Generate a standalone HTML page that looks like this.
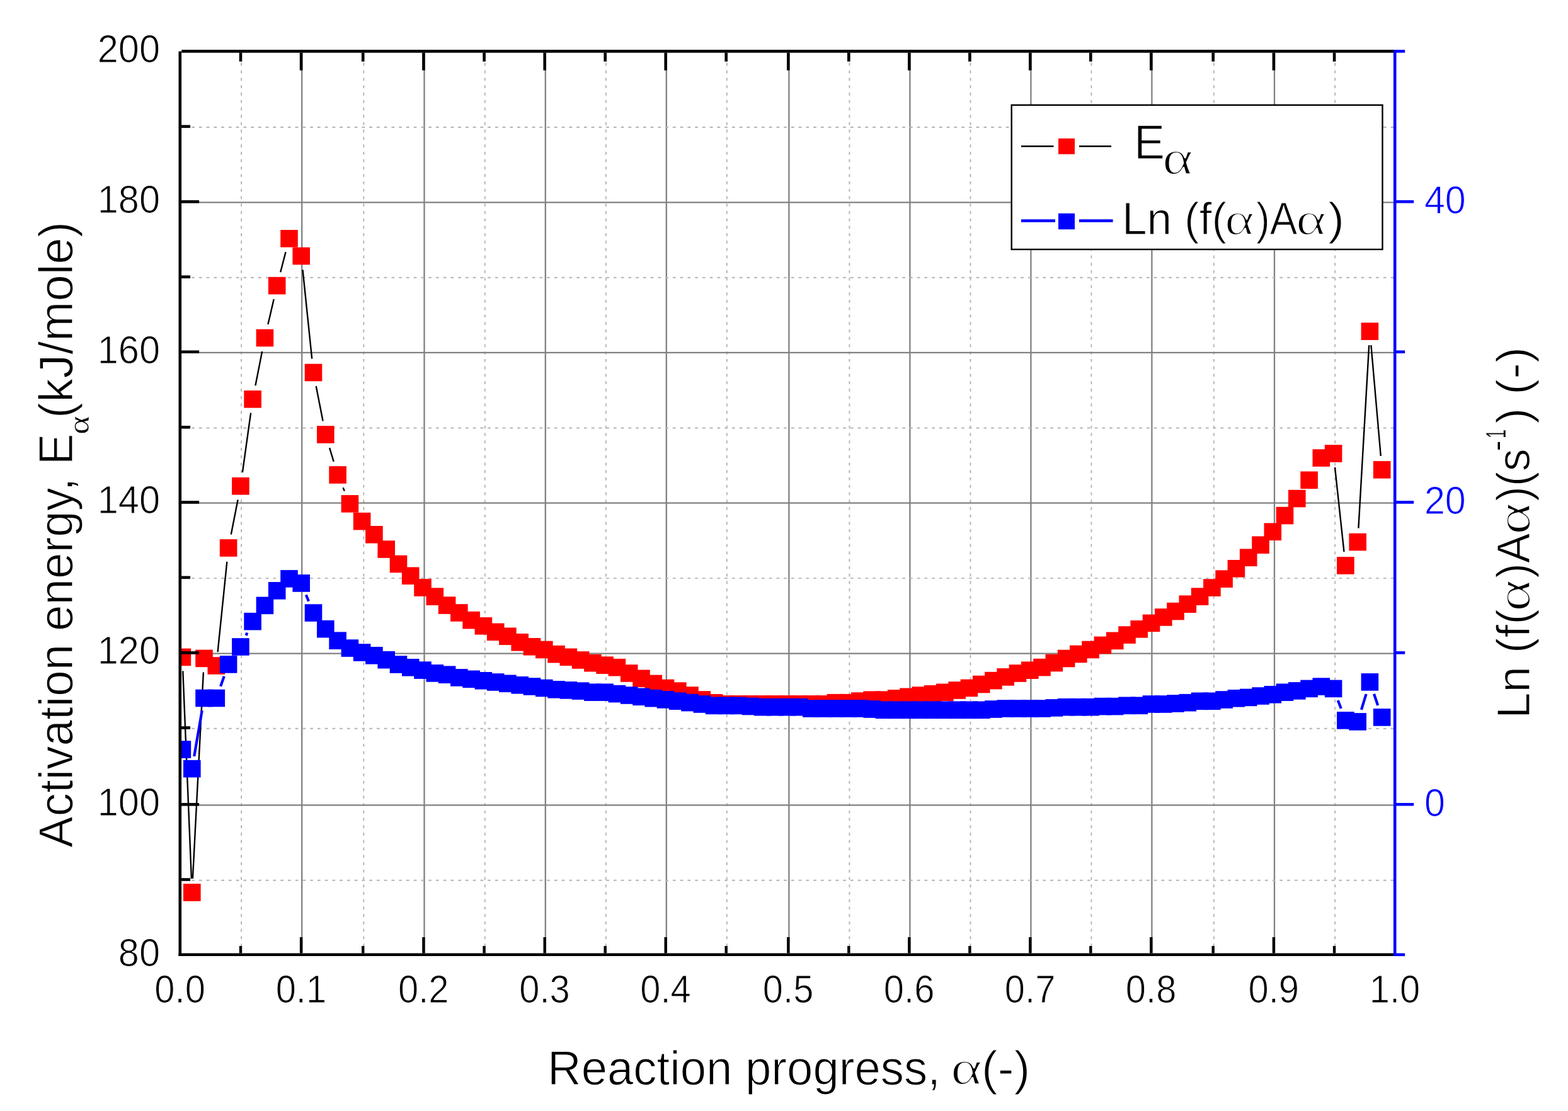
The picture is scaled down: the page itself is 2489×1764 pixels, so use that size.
<!DOCTYPE html><html><head><meta charset="utf-8"><style>html,body{margin:0;padding:0;background:#fff;overflow:hidden}svg{display:block}</style></head><body><svg width="2489" height="1764" viewBox="0 0 2489 1764"><defs><clipPath id="pc"><rect x="288" y="83.6" width="1924" height="1430"/></clipPath></defs><rect width="2489" height="1764" fill="#fff"/><g><line x1="383.1" y1="84" x2="383.1" y2="1513" stroke="#b4b4b4" stroke-width="1.9" stroke-dasharray="4.7 7.05" stroke-dashoffset="7.4"/><line x1="479.2" y1="84" x2="479.2" y2="1513" stroke="#808080" stroke-width="2.3"/><line x1="577.3" y1="84" x2="577.3" y2="1513" stroke="#b4b4b4" stroke-width="1.9" stroke-dasharray="4.7 7.05" stroke-dashoffset="7.4"/><line x1="673.5" y1="84" x2="673.5" y2="1513" stroke="#808080" stroke-width="2.3"/><line x1="769.7" y1="84" x2="769.7" y2="1513" stroke="#b4b4b4" stroke-width="1.9" stroke-dasharray="4.7 7.05" stroke-dashoffset="7.4"/><line x1="865.8" y1="84" x2="865.8" y2="1513" stroke="#808080" stroke-width="2.3"/><line x1="961.8" y1="84" x2="961.8" y2="1513" stroke="#b4b4b4" stroke-width="1.9" stroke-dasharray="4.7 7.05" stroke-dashoffset="7.4"/><line x1="1057.8" y1="84" x2="1057.8" y2="1513" stroke="#808080" stroke-width="2.3"/><line x1="1153.8" y1="84" x2="1153.8" y2="1513" stroke="#b4b4b4" stroke-width="1.9" stroke-dasharray="4.7 7.05" stroke-dashoffset="7.4"/><line x1="1252.4" y1="84" x2="1252.4" y2="1513" stroke="#808080" stroke-width="2.3"/><line x1="1348.4" y1="84" x2="1348.4" y2="1513" stroke="#b4b4b4" stroke-width="1.9" stroke-dasharray="4.7 7.05" stroke-dashoffset="7.4"/><line x1="1444.4" y1="84" x2="1444.4" y2="1513" stroke="#808080" stroke-width="2.3"/><line x1="1540.5" y1="84" x2="1540.5" y2="1513" stroke="#b4b4b4" stroke-width="1.9" stroke-dasharray="4.7 7.05" stroke-dashoffset="7.4"/><line x1="1636.4" y1="84" x2="1636.4" y2="1513" stroke="#808080" stroke-width="2.3"/><line x1="1732.4" y1="84" x2="1732.4" y2="1513" stroke="#b4b4b4" stroke-width="1.9" stroke-dasharray="4.7 7.05" stroke-dashoffset="7.4"/><line x1="1828.4" y1="84" x2="1828.4" y2="1513" stroke="#808080" stroke-width="2.3"/><line x1="1926.8" y1="84" x2="1926.8" y2="1513" stroke="#b4b4b4" stroke-width="1.9" stroke-dasharray="4.7 7.05" stroke-dashoffset="7.4"/><line x1="2023.0" y1="84" x2="2023.0" y2="1513" stroke="#808080" stroke-width="2.3"/><line x1="2119.2" y1="84" x2="2119.2" y2="1513" stroke="#b4b4b4" stroke-width="1.9" stroke-dasharray="4.7 7.05" stroke-dashoffset="7.4"/><line x1="288" y1="202.0" x2="2212" y2="202.0" stroke="#b4b4b4" stroke-width="1.9" stroke-dasharray="4.7 7.05" stroke-dashoffset="7.3"/><line x1="288" y1="321.4" x2="2212" y2="321.4" stroke="#808080" stroke-width="2.3"/><line x1="288" y1="440.8" x2="2212" y2="440.8" stroke="#b4b4b4" stroke-width="1.9" stroke-dasharray="4.7 7.05" stroke-dashoffset="7.3"/><line x1="288" y1="559.9" x2="2212" y2="559.9" stroke="#808080" stroke-width="2.3"/><line x1="288" y1="679.5" x2="2212" y2="679.5" stroke="#b4b4b4" stroke-width="1.9" stroke-dasharray="4.7 7.05" stroke-dashoffset="7.3"/><line x1="288" y1="798.7" x2="2212" y2="798.7" stroke="#808080" stroke-width="2.3"/><line x1="288" y1="918.1" x2="2212" y2="918.1" stroke="#b4b4b4" stroke-width="1.9" stroke-dasharray="4.7 7.05" stroke-dashoffset="7.3"/><line x1="288" y1="1037.6" x2="2212" y2="1037.6" stroke="#808080" stroke-width="2.3"/><line x1="288" y1="1156.7" x2="2212" y2="1156.7" stroke="#b4b4b4" stroke-width="1.9" stroke-dasharray="4.7 7.05" stroke-dashoffset="7.3"/><line x1="288" y1="1278.4" x2="2212" y2="1278.4" stroke="#808080" stroke-width="2.3"/><line x1="288" y1="1397.7" x2="2212" y2="1397.7" stroke="#b4b4b4" stroke-width="1.9" stroke-dasharray="4.7 7.05" stroke-dashoffset="7.3"/></g><g clip-path="url(#pc)"><g stroke="#000" stroke-width="2.4" fill="none"><line x1="290.3" y1="1065.4" x2="303.9" y2="1395.0"/><line x1="305.9" y1="1395.0" x2="322.9" y2="1067.4"/><line x1="345.6" y1="1035.1" x2="360.3" y2="891.9"/><line x1="366.8" y1="848.4" x2="377.6" y2="793.4"/><line x1="384.9" y1="750.0" x2="398.1" y2="655.6"/><line x1="405.4" y1="612.2" x2="416.1" y2="558.1"/><line x1="425.4" y1="515.1" x2="434.7" y2="475.0"/><line x1="445.2" y1="432.3" x2="453.5" y2="400.1"/><line x1="480.5" y1="428.4" x2="495.2" y2="569.6"/><line x1="501.7" y1="613.1" x2="512.6" y2="668.4"/><line x1="523.1" y1="711.1" x2="529.7" y2="732.9"/><line x1="544.6" y1="774.3" x2="546.8" y2="779.6"/><line x1="2119.0" y1="742.0" x2="2133.5" y2="876.1"/><line x1="2156.4" y1="838.6" x2="2173.2" y2="548.1"/><line x1="2176.4" y1="548.0" x2="2191.8" y2="724.0"/></g><g fill="#f00"><rect x="275.6" y="1029.6" width="27.6" height="27.6"/><rect x="291.0" y="1403.2" width="27.6" height="27.6"/><rect x="310.2" y="1031.6" width="27.6" height="27.6"/><rect x="329.5" y="1043.2" width="27.6" height="27.6"/><rect x="348.8" y="856.2" width="27.6" height="27.6"/><rect x="368.1" y="758.0" width="27.6" height="27.6"/><rect x="387.3" y="620.0" width="27.6" height="27.6"/><rect x="406.6" y="522.7" width="27.6" height="27.6"/><rect x="425.9" y="439.8" width="27.6" height="27.6"/><rect x="445.2" y="365.0" width="27.6" height="27.6"/><rect x="464.4" y="392.7" width="27.6" height="27.6"/><rect x="483.7" y="577.7" width="27.6" height="27.6"/><rect x="503.0" y="676.2" width="27.6" height="27.6"/><rect x="522.3" y="740.2" width="27.6" height="27.6"/><rect x="541.6" y="786.1" width="27.6" height="27.6"/><rect x="560.8" y="813.9" width="27.6" height="27.6"/><rect x="580.1" y="835.0" width="27.6" height="27.6"/><rect x="599.4" y="858.3" width="27.6" height="27.6"/><rect x="618.7" y="881.7" width="27.6" height="27.6"/><rect x="637.9" y="900.5" width="27.6" height="27.6"/><rect x="657.2" y="919.2" width="27.6" height="27.6"/><rect x="676.5" y="933.4" width="27.6" height="27.6"/><rect x="695.8" y="947.3" width="27.6" height="27.6"/><rect x="715.0" y="959.2" width="27.6" height="27.6"/><rect x="734.3" y="970.9" width="27.6" height="27.6"/><rect x="753.6" y="980.1" width="27.6" height="27.6"/><rect x="772.9" y="989.6" width="27.6" height="27.6"/><rect x="792.1" y="996.5" width="27.6" height="27.6"/><rect x="811.4" y="1006.0" width="27.6" height="27.6"/><rect x="830.7" y="1013.0" width="27.6" height="27.6"/><rect x="850.0" y="1017.7" width="27.6" height="27.6"/><rect x="869.2" y="1024.9" width="27.6" height="27.6"/><rect x="888.5" y="1029.5" width="27.6" height="27.6"/><rect x="907.8" y="1034.2" width="27.6" height="27.6"/><rect x="927.1" y="1038.9" width="27.6" height="27.6"/><rect x="946.3" y="1042.4" width="27.6" height="27.6"/><rect x="965.6" y="1045.9" width="27.6" height="27.6"/><rect x="984.9" y="1055.2" width="27.6" height="27.6"/><rect x="1004.2" y="1063.5" width="27.6" height="27.6"/><rect x="1023.4" y="1071.6" width="27.6" height="27.6"/><rect x="1042.7" y="1078.7" width="27.6" height="27.6"/><rect x="1062.0" y="1083.3" width="27.6" height="27.6"/><rect x="1081.2" y="1090.2" width="27.6" height="27.6"/><rect x="1100.5" y="1097.2" width="27.6" height="27.6"/><rect x="1119.8" y="1102.0" width="27.6" height="27.6"/><rect x="1139.1" y="1104.1" width="27.6" height="27.6"/><rect x="1158.4" y="1104.1" width="27.6" height="27.6"/><rect x="1177.6" y="1104.1" width="27.6" height="27.6"/><rect x="1196.9" y="1104.1" width="27.6" height="27.6"/><rect x="1216.2" y="1104.1" width="27.6" height="27.6"/><rect x="1235.5" y="1104.1" width="27.6" height="27.6"/><rect x="1254.7" y="1104.1" width="27.6" height="27.6"/><rect x="1274.0" y="1104.1" width="27.6" height="27.6"/><rect x="1293.3" y="1104.1" width="27.6" height="27.6"/><rect x="1312.6" y="1101.9" width="27.6" height="27.6"/><rect x="1331.8" y="1101.9" width="27.6" height="27.6"/><rect x="1351.1" y="1099.3" width="27.6" height="27.6"/><rect x="1370.4" y="1097.4" width="27.6" height="27.6"/><rect x="1389.6" y="1097.4" width="27.6" height="27.6"/><rect x="1408.9" y="1095.1" width="27.6" height="27.6"/><rect x="1428.2" y="1092.5" width="27.6" height="27.6"/><rect x="1447.5" y="1090.2" width="27.6" height="27.6"/><rect x="1466.8" y="1088.0" width="27.6" height="27.6"/><rect x="1486.0" y="1085.5" width="27.6" height="27.6"/><rect x="1505.3" y="1082.2" width="27.6" height="27.6"/><rect x="1524.6" y="1078.6" width="27.6" height="27.6"/><rect x="1543.9" y="1072.7" width="27.6" height="27.6"/><rect x="1563.1" y="1066.8" width="27.6" height="27.6"/><rect x="1582.4" y="1061.1" width="27.6" height="27.6"/><rect x="1601.7" y="1055.2" width="27.6" height="27.6"/><rect x="1621.0" y="1050.4" width="27.6" height="27.6"/><rect x="1640.2" y="1045.8" width="27.6" height="27.6"/><rect x="1659.5" y="1038.7" width="27.6" height="27.6"/><rect x="1678.8" y="1031.7" width="27.6" height="27.6"/><rect x="1698.0" y="1024.7" width="27.6" height="27.6"/><rect x="1717.3" y="1017.7" width="27.6" height="27.6"/><rect x="1736.6" y="1010.6" width="27.6" height="27.6"/><rect x="1755.9" y="1003.6" width="27.6" height="27.6"/><rect x="1775.2" y="994.3" width="27.6" height="27.6"/><rect x="1794.4" y="985.1" width="27.6" height="27.6"/><rect x="1813.7" y="975.6" width="27.6" height="27.6"/><rect x="1833.0" y="966.2" width="27.6" height="27.6"/><rect x="1852.2" y="956.8" width="27.6" height="27.6"/><rect x="1871.5" y="945.4" width="27.6" height="27.6"/><rect x="1890.8" y="933.4" width="27.6" height="27.6"/><rect x="1910.1" y="919.3" width="27.6" height="27.6"/><rect x="1929.3" y="905.4" width="27.6" height="27.6"/><rect x="1948.6" y="889.0" width="27.6" height="27.6"/><rect x="1967.9" y="871.5" width="27.6" height="27.6"/><rect x="1987.2" y="851.5" width="27.6" height="27.6"/><rect x="2006.5" y="830.5" width="27.6" height="27.6"/><rect x="2025.7" y="804.8" width="27.6" height="27.6"/><rect x="2045.0" y="777.8" width="27.6" height="27.6"/><rect x="2064.3" y="748.5" width="27.6" height="27.6"/><rect x="2083.5" y="713.3" width="27.6" height="27.6"/><rect x="2102.8" y="706.3" width="27.6" height="27.6"/><rect x="2122.1" y="884.2" width="27.6" height="27.6"/><rect x="2141.4" y="846.8" width="27.6" height="27.6"/><rect x="2160.6" y="512.3" width="27.6" height="27.6"/><rect x="2179.9" y="732.1" width="27.6" height="27.6"/></g><g stroke="#00f" stroke-width="4.2" fill="none"><line x1="308.2" y1="1200.9" x2="320.7" y2="1128.2"/><line x1="350.1" y1="1089.7" x2="355.8" y2="1073.7"/><line x1="390.5" y1="1009.0" x2="392.5" y2="1004.7"/><line x1="485.8" y1="944.5" x2="490.0" y2="954.6"/><line x1="2123.8" y1="1112.1" x2="2128.8" y2="1125.1"/><line x1="2161.0" y1="1126.8" x2="2168.6" y2="1102.0"/><line x1="2181.0" y1="1101.8" x2="2187.2" y2="1120.0"/></g><g fill="#00f"><rect x="275.6" y="1176.2" width="27.6" height="27.6"/><rect x="291.0" y="1206.8" width="27.6" height="27.6"/><rect x="310.2" y="1094.7" width="27.6" height="27.6"/><rect x="329.5" y="1094.7" width="27.6" height="27.6"/><rect x="348.8" y="1041.1" width="27.6" height="27.6"/><rect x="368.1" y="1013.2" width="27.6" height="27.6"/><rect x="387.3" y="972.9" width="27.6" height="27.6"/><rect x="406.6" y="947.6" width="27.6" height="27.6"/><rect x="425.9" y="924.1" width="27.6" height="27.6"/><rect x="445.2" y="905.1" width="27.6" height="27.6"/><rect x="464.4" y="912.2" width="27.6" height="27.6"/><rect x="483.7" y="959.3" width="27.6" height="27.6"/><rect x="503.0" y="984.9" width="27.6" height="27.6"/><rect x="522.3" y="1003.4" width="27.6" height="27.6"/><rect x="541.6" y="1015.3" width="27.6" height="27.6"/><rect x="560.8" y="1022.2" width="27.6" height="27.6"/><rect x="580.1" y="1027.0" width="27.6" height="27.6"/><rect x="599.4" y="1033.9" width="27.6" height="27.6"/><rect x="618.7" y="1041.2" width="27.6" height="27.6"/><rect x="637.9" y="1046.0" width="27.6" height="27.6"/><rect x="657.2" y="1050.3" width="27.6" height="27.6"/><rect x="676.5" y="1055.1" width="27.6" height="27.6"/><rect x="695.8" y="1057.4" width="27.6" height="27.6"/><rect x="715.0" y="1062.1" width="27.6" height="27.6"/><rect x="734.3" y="1064.5" width="27.6" height="27.6"/><rect x="753.6" y="1067.0" width="27.6" height="27.6"/><rect x="772.9" y="1069.2" width="27.6" height="27.6"/><rect x="792.1" y="1071.5" width="27.6" height="27.6"/><rect x="811.4" y="1074.0" width="27.6" height="27.6"/><rect x="830.7" y="1076.2" width="27.6" height="27.6"/><rect x="850.0" y="1078.7" width="27.6" height="27.6"/><rect x="869.2" y="1081.0" width="27.6" height="27.6"/><rect x="888.5" y="1082.1" width="27.6" height="27.6"/><rect x="907.8" y="1083.3" width="27.6" height="27.6"/><rect x="927.1" y="1085.4" width="27.6" height="27.6"/><rect x="946.3" y="1085.4" width="27.6" height="27.6"/><rect x="965.6" y="1087.8" width="27.6" height="27.6"/><rect x="984.9" y="1090.2" width="27.6" height="27.6"/><rect x="1004.2" y="1092.5" width="27.6" height="27.6"/><rect x="1023.4" y="1094.9" width="27.6" height="27.6"/><rect x="1042.7" y="1097.1" width="27.6" height="27.6"/><rect x="1062.0" y="1099.4" width="27.6" height="27.6"/><rect x="1081.2" y="1101.8" width="27.6" height="27.6"/><rect x="1100.5" y="1104.2" width="27.6" height="27.6"/><rect x="1119.8" y="1106.6" width="27.6" height="27.6"/><rect x="1139.1" y="1106.6" width="27.6" height="27.6"/><rect x="1158.4" y="1106.6" width="27.6" height="27.6"/><rect x="1177.6" y="1107.7" width="27.6" height="27.6"/><rect x="1196.9" y="1108.9" width="27.6" height="27.6"/><rect x="1216.2" y="1108.9" width="27.6" height="27.6"/><rect x="1235.5" y="1108.9" width="27.6" height="27.6"/><rect x="1254.7" y="1108.9" width="27.6" height="27.6"/><rect x="1274.0" y="1111.2" width="27.6" height="27.6"/><rect x="1293.3" y="1111.2" width="27.6" height="27.6"/><rect x="1312.6" y="1111.2" width="27.6" height="27.6"/><rect x="1331.8" y="1111.2" width="27.6" height="27.6"/><rect x="1351.1" y="1111.2" width="27.6" height="27.6"/><rect x="1370.4" y="1112.2" width="27.6" height="27.6"/><rect x="1389.6" y="1113.5" width="27.6" height="27.6"/><rect x="1408.9" y="1113.5" width="27.6" height="27.6"/><rect x="1428.2" y="1113.5" width="27.6" height="27.6"/><rect x="1447.5" y="1113.5" width="27.6" height="27.6"/><rect x="1466.8" y="1113.5" width="27.6" height="27.6"/><rect x="1486.0" y="1113.5" width="27.6" height="27.6"/><rect x="1505.3" y="1113.5" width="27.6" height="27.6"/><rect x="1524.6" y="1113.5" width="27.6" height="27.6"/><rect x="1543.9" y="1113.5" width="27.6" height="27.6"/><rect x="1563.1" y="1112.2" width="27.6" height="27.6"/><rect x="1582.4" y="1111.2" width="27.6" height="27.6"/><rect x="1601.7" y="1111.2" width="27.6" height="27.6"/><rect x="1621.0" y="1111.2" width="27.6" height="27.6"/><rect x="1640.2" y="1111.2" width="27.6" height="27.6"/><rect x="1659.5" y="1110.1" width="27.6" height="27.6"/><rect x="1678.8" y="1108.9" width="27.6" height="27.6"/><rect x="1698.0" y="1108.9" width="27.6" height="27.6"/><rect x="1717.3" y="1108.9" width="27.6" height="27.6"/><rect x="1736.6" y="1107.8" width="27.6" height="27.6"/><rect x="1755.9" y="1107.8" width="27.6" height="27.6"/><rect x="1775.2" y="1106.5" width="27.6" height="27.6"/><rect x="1794.4" y="1106.5" width="27.6" height="27.6"/><rect x="1813.7" y="1104.2" width="27.6" height="27.6"/><rect x="1833.0" y="1104.2" width="27.6" height="27.6"/><rect x="1852.2" y="1103.2" width="27.6" height="27.6"/><rect x="1871.5" y="1101.9" width="27.6" height="27.6"/><rect x="1890.8" y="1099.5" width="27.6" height="27.6"/><rect x="1910.1" y="1099.5" width="27.6" height="27.6"/><rect x="1929.3" y="1097.2" width="27.6" height="27.6"/><rect x="1948.6" y="1095.0" width="27.6" height="27.6"/><rect x="1967.9" y="1093.6" width="27.6" height="27.6"/><rect x="1987.2" y="1091.2" width="27.6" height="27.6"/><rect x="2006.5" y="1089.0" width="27.6" height="27.6"/><rect x="2025.7" y="1085.4" width="27.6" height="27.6"/><rect x="2045.0" y="1083.1" width="27.6" height="27.6"/><rect x="2064.3" y="1079.6" width="27.6" height="27.6"/><rect x="2083.5" y="1076.3" width="27.6" height="27.6"/><rect x="2102.8" y="1079.6" width="27.6" height="27.6"/><rect x="2122.1" y="1130.0" width="27.6" height="27.6"/><rect x="2141.4" y="1132.1" width="27.6" height="27.6"/><rect x="2160.6" y="1069.1" width="27.6" height="27.6"/><rect x="2179.9" y="1125.1" width="27.6" height="27.6"/></g></g><g><line x1="285.8" y1="81.5" x2="285.8" y2="1518" stroke="#000" stroke-width="4.6"/><line x1="288.3" y1="81.4" x2="2212" y2="81.4" stroke="#000" stroke-width="4.6"/><line x1="283.5" y1="1515.8" x2="2212" y2="1515.8" stroke="#000" stroke-width="4.6"/><line x1="382.0" y1="1513.5" x2="382.0" y2="1502.0" stroke="#000" stroke-width="4.4"/><line x1="382.0" y1="83.7" x2="382.0" y2="97.7" stroke="#000" stroke-width="4.6"/><line x1="478.1" y1="1513.5" x2="478.1" y2="1488.0" stroke="#000" stroke-width="4.4"/><line x1="478.1" y1="83.7" x2="478.1" y2="111.7" stroke="#000" stroke-width="4.6"/><line x1="576.2" y1="1513.5" x2="576.2" y2="1502.0" stroke="#000" stroke-width="4.4"/><line x1="576.2" y1="83.7" x2="576.2" y2="97.7" stroke="#000" stroke-width="4.6"/><line x1="672.4" y1="1513.5" x2="672.4" y2="1488.0" stroke="#000" stroke-width="4.4"/><line x1="672.4" y1="83.7" x2="672.4" y2="111.7" stroke="#000" stroke-width="4.6"/><line x1="768.6" y1="1513.5" x2="768.6" y2="1502.0" stroke="#000" stroke-width="4.4"/><line x1="768.6" y1="83.7" x2="768.6" y2="97.7" stroke="#000" stroke-width="4.6"/><line x1="864.7" y1="1513.5" x2="864.7" y2="1488.0" stroke="#000" stroke-width="4.4"/><line x1="864.7" y1="83.7" x2="864.7" y2="111.7" stroke="#000" stroke-width="4.6"/><line x1="960.7" y1="1513.5" x2="960.7" y2="1502.0" stroke="#000" stroke-width="4.4"/><line x1="960.7" y1="83.7" x2="960.7" y2="97.7" stroke="#000" stroke-width="4.6"/><line x1="1056.7" y1="1513.5" x2="1056.7" y2="1488.0" stroke="#000" stroke-width="4.4"/><line x1="1056.7" y1="83.7" x2="1056.7" y2="111.7" stroke="#000" stroke-width="4.6"/><line x1="1152.7" y1="1513.5" x2="1152.7" y2="1502.0" stroke="#000" stroke-width="4.4"/><line x1="1152.7" y1="83.7" x2="1152.7" y2="97.7" stroke="#000" stroke-width="4.6"/><line x1="1251.3" y1="1513.5" x2="1251.3" y2="1488.0" stroke="#000" stroke-width="4.4"/><line x1="1251.3" y1="83.7" x2="1251.3" y2="111.7" stroke="#000" stroke-width="4.6"/><line x1="1347.3" y1="1513.5" x2="1347.3" y2="1502.0" stroke="#000" stroke-width="4.4"/><line x1="1347.3" y1="83.7" x2="1347.3" y2="97.7" stroke="#000" stroke-width="4.6"/><line x1="1443.3" y1="1513.5" x2="1443.3" y2="1488.0" stroke="#000" stroke-width="4.4"/><line x1="1443.3" y1="83.7" x2="1443.3" y2="111.7" stroke="#000" stroke-width="4.6"/><line x1="1539.4" y1="1513.5" x2="1539.4" y2="1502.0" stroke="#000" stroke-width="4.4"/><line x1="1539.4" y1="83.7" x2="1539.4" y2="97.7" stroke="#000" stroke-width="4.6"/><line x1="1635.3" y1="1513.5" x2="1635.3" y2="1488.0" stroke="#000" stroke-width="4.4"/><line x1="1635.3" y1="83.7" x2="1635.3" y2="111.7" stroke="#000" stroke-width="4.6"/><line x1="1731.3" y1="1513.5" x2="1731.3" y2="1502.0" stroke="#000" stroke-width="4.4"/><line x1="1731.3" y1="83.7" x2="1731.3" y2="97.7" stroke="#000" stroke-width="4.6"/><line x1="1827.3" y1="1513.5" x2="1827.3" y2="1488.0" stroke="#000" stroke-width="4.4"/><line x1="1827.3" y1="83.7" x2="1827.3" y2="111.7" stroke="#000" stroke-width="4.6"/><line x1="1925.7" y1="1513.5" x2="1925.7" y2="1502.0" stroke="#000" stroke-width="4.4"/><line x1="1925.7" y1="83.7" x2="1925.7" y2="97.7" stroke="#000" stroke-width="4.6"/><line x1="2021.9" y1="1513.5" x2="2021.9" y2="1488.0" stroke="#000" stroke-width="4.4"/><line x1="2021.9" y1="83.7" x2="2021.9" y2="111.7" stroke="#000" stroke-width="4.6"/><line x1="2118.1" y1="1513.5" x2="2118.1" y2="1502.0" stroke="#000" stroke-width="4.4"/><line x1="2118.1" y1="83.7" x2="2118.1" y2="97.7" stroke="#000" stroke-width="4.6"/><line x1="288.1" y1="200.8" x2="302.1" y2="200.8" stroke="#000" stroke-width="4.6"/><line x1="288.1" y1="320.2" x2="316.1" y2="320.2" stroke="#000" stroke-width="4.6"/><line x1="288.1" y1="439.6" x2="302.1" y2="439.6" stroke="#000" stroke-width="4.6"/><line x1="288.1" y1="558.7" x2="316.1" y2="558.7" stroke="#000" stroke-width="4.6"/><line x1="288.1" y1="678.3" x2="302.1" y2="678.3" stroke="#000" stroke-width="4.6"/><line x1="288.1" y1="797.5" x2="316.1" y2="797.5" stroke="#000" stroke-width="4.6"/><line x1="288.1" y1="916.9" x2="302.1" y2="916.9" stroke="#000" stroke-width="4.6"/><line x1="288.1" y1="1036.4" x2="316.1" y2="1036.4" stroke="#000" stroke-width="4.6"/><line x1="288.1" y1="1155.5" x2="302.1" y2="1155.5" stroke="#000" stroke-width="4.6"/><line x1="288.1" y1="1277.2" x2="316.1" y2="1277.2" stroke="#000" stroke-width="4.6"/><line x1="288.1" y1="1396.5" x2="302.1" y2="1396.5" stroke="#000" stroke-width="4.6"/></g><g><line x1="2214.2" y1="79" x2="2214.2" y2="1518" stroke="#00f" stroke-width="4.6"/><line x1="2214.2" y1="1515.8" x2="2230.2" y2="1515.8" stroke="#00f" stroke-width="4.6"/><line x1="2214.2" y1="1277.2" x2="2244.2" y2="1277.2" stroke="#00f" stroke-width="4.6"/><line x1="2214.2" y1="1036.4" x2="2230.2" y2="1036.4" stroke="#00f" stroke-width="4.6"/><line x1="2214.2" y1="797.5" x2="2244.2" y2="797.5" stroke="#00f" stroke-width="4.6"/><line x1="2214.2" y1="558.7" x2="2230.2" y2="558.7" stroke="#00f" stroke-width="4.6"/><line x1="2214.2" y1="320.2" x2="2244.2" y2="320.2" stroke="#00f" stroke-width="4.6"/><line x1="2214.2" y1="81.4" x2="2230.2" y2="81.4" stroke="#00f" stroke-width="4.6"/></g><g font-family='"Liberation Sans", Arial, sans-serif' font-size='62.3' fill='#000' stroke='#fff' stroke-width='1.0'><text transform="translate(254,1533.7) scale(0.955,1)" text-anchor="end">80</text><text transform="translate(254,1295.1) scale(0.955,1)" text-anchor="end">100</text><text transform="translate(254,1054.3) scale(0.955,1)" text-anchor="end">120</text><text transform="translate(254,815.4) scale(0.955,1)" text-anchor="end">140</text><text transform="translate(254,576.6) scale(0.955,1)" text-anchor="end">160</text><text transform="translate(254,338.1) scale(0.955,1)" text-anchor="end">180</text><text transform="translate(254,99.3) scale(0.955,1)" text-anchor="end">200</text><text transform="translate(285.6,1592.2) scale(0.93,1)" text-anchor="middle">0.0</text><text transform="translate(477.9,1592.2) scale(0.93,1)" text-anchor="middle">0.1</text><text transform="translate(672.2,1592.2) scale(0.93,1)" text-anchor="middle">0.2</text><text transform="translate(864.5,1592.2) scale(0.93,1)" text-anchor="middle">0.3</text><text transform="translate(1056.5,1592.2) scale(0.93,1)" text-anchor="middle">0.4</text><text transform="translate(1251.1,1592.2) scale(0.93,1)" text-anchor="middle">0.5</text><text transform="translate(1443.1,1592.2) scale(0.93,1)" text-anchor="middle">0.6</text><text transform="translate(1635.1,1592.2) scale(0.93,1)" text-anchor="middle">0.7</text><text transform="translate(1827.1,1592.2) scale(0.93,1)" text-anchor="middle">0.8</text><text transform="translate(2021.7,1592.2) scale(0.93,1)" text-anchor="middle">0.9</text><text transform="translate(2214.0,1592.2) scale(0.93,1)" text-anchor="middle">1.0</text></g><g font-family='"Liberation Sans", Arial, sans-serif' font-size='62.3' fill='#00f' stroke='#fff' stroke-width='1.0'><text transform="translate(2260.9,1295.5) scale(0.95,1)">0</text><text transform="translate(2260.9,815.8) scale(0.95,1)">20</text><text transform="translate(2260.9,338.5) scale(0.95,1)">40</text></g><rect x="1605.7" y="166.8" width="588.8" height="229.2" fill="#fff" stroke="#000" stroke-width="2.4"/><line x1="1621" y1="232.3" x2="1672.5" y2="232.3" stroke="#000" stroke-width="2.6"/><line x1="1713" y1="232.3" x2="1764" y2="232.3" stroke="#000" stroke-width="2.6"/><rect x="1680" y="219.8" width="26" height="25" fill="#f00"/><line x1="1621" y1="350.5" x2="1675" y2="350.5" stroke="#00f" stroke-width="4.6"/><line x1="1713" y1="350.5" x2="1766.6" y2="350.5" stroke="#00f" stroke-width="4.6"/><rect x="1680" y="338.8" width="26" height="25.4" fill="#00f"/><text x="869.00" y="1721.6" font-family='"Liberation Sans", Arial, sans-serif' font-size='75.5' fill='#000' stroke='#fff' stroke-width='1.2' xml:space='preserve' textLength="623.86" lengthAdjust="spacingAndGlyphs">Reaction progress,</text><text x="1509.00" y="1721.4" font-family='"Liberation Serif", "Times New Roman", serif' font-size='75.5' fill='#000' stroke='#fff' stroke-width='2.0' xml:space='preserve' textLength="50.16" lengthAdjust="spacingAndGlyphs">α</text><text x="1558.00" y="1721.6" font-family='"Liberation Sans", Arial, sans-serif' font-size='75.5' fill='#000' stroke='#fff' stroke-width='1.2' xml:space='preserve' textLength="77.08" lengthAdjust="spacingAndGlyphs">(-)</text><text x="1800.00" y="251.7" font-family='"Liberation Sans", Arial, sans-serif' font-size='75.5' fill='#000' stroke='#fff' stroke-width='1.2' xml:space='preserve' textLength="49.08" lengthAdjust="spacingAndGlyphs">E</text><text x="1845.00" y="275.8" font-family='"Liberation Serif", "Times New Roman", serif' font-size='76' fill='#000' stroke='#fff' stroke-width='2.0' xml:space='preserve' textLength="48.92" lengthAdjust="spacingAndGlyphs">α</text><text x="1781.00" y="372.3" font-family='"Liberation Sans", Arial, sans-serif' font-size='72' fill='#000' stroke='#fff' stroke-width='1.2' xml:space='preserve' textLength="166.15" lengthAdjust="spacingAndGlyphs">Ln (f(</text><text x="1944.00" y="372.0" font-family='"Liberation Serif", "Times New Roman", serif' font-size='72' fill='#000' stroke='#fff' stroke-width='2.0' xml:space='preserve' textLength="47.01" lengthAdjust="spacingAndGlyphs">α</text><text x="1994.00" y="372.3" font-family='"Liberation Sans", Arial, sans-serif' font-size='72' fill='#000' stroke='#fff' stroke-width='1.2' xml:space='preserve' textLength="65.35" lengthAdjust="spacingAndGlyphs">)A</text><text x="2057.00" y="372.0" font-family='"Liberation Serif", "Times New Roman", serif' font-size='72' fill='#000' stroke='#fff' stroke-width='2.0' xml:space='preserve' textLength="48.19" lengthAdjust="spacingAndGlyphs">α</text><text x="2108.00" y="372.3" font-family='"Liberation Sans", Arial, sans-serif' font-size='72' fill='#000' stroke='#fff' stroke-width='1.2' xml:space='preserve' textLength="26.07" lengthAdjust="spacingAndGlyphs">)</text><text transform="rotate(-90)" x="-1346.00" y="115.0" font-family='"Liberation Sans", Arial, sans-serif' font-size='75.5' fill='#000' stroke='#fff' stroke-width='1.2' xml:space='preserve' textLength="657.60" lengthAdjust="spacingAndGlyphs">Activation energy, E</text><text transform="rotate(-90)" x="-690.00" y="141.2" font-family='"Liberation Serif", "Times New Roman", serif' font-size='48' fill='#000' stroke='#fff' stroke-width='0.6' xml:space='preserve' textLength="29.64" lengthAdjust="spacingAndGlyphs">α</text><text transform="rotate(-90)" x="-664.00" y="115.0" font-family='"Liberation Sans", Arial, sans-serif' font-size='75.5' fill='#000' stroke='#fff' stroke-width='1.2' xml:space='preserve' textLength="311.99" lengthAdjust="spacingAndGlyphs">(kJ/mole)</text><text transform="rotate(-90)" x="-1141.00" y="2428" font-family='"Liberation Sans", Arial, sans-serif' font-size='75' fill='#000' stroke='#fff' stroke-width='1.2' xml:space='preserve' textLength="174.22" lengthAdjust="spacingAndGlyphs">Ln (f(</text><text transform="rotate(-90)" x="-971.00" y="2428" font-family='"Liberation Serif", "Times New Roman", serif' font-size='77' fill='#000' stroke='#fff' stroke-width='2.0' xml:space='preserve' textLength="51.14" lengthAdjust="spacingAndGlyphs">α</text><text transform="rotate(-90)" x="-918.00" y="2428" font-family='"Liberation Sans", Arial, sans-serif' font-size='75' fill='#000' stroke='#fff' stroke-width='1.2' xml:space='preserve' textLength="71.53" lengthAdjust="spacingAndGlyphs">)A</text><text transform="rotate(-90)" x="-849.00" y="2428" font-family='"Liberation Serif", "Times New Roman", serif' font-size='77' fill='#000' stroke='#fff' stroke-width='2.0' xml:space='preserve' textLength="51.11" lengthAdjust="spacingAndGlyphs">α</text><text transform="rotate(-90)" x="-796.00" y="2428" font-family='"Liberation Sans", Arial, sans-serif' font-size='75' fill='#000' stroke='#fff' stroke-width='1.2' xml:space='preserve' textLength="83.47" lengthAdjust="spacingAndGlyphs">)(s</text><text transform="rotate(-90)" x="-716.00" y="2391" font-family='"Liberation Sans", Arial, sans-serif' font-size='45' fill='#000' stroke='#fff' stroke-width='0' xml:space='preserve' textLength="16.36" lengthAdjust="spacingAndGlyphs">-</text><text transform="rotate(-90)" x="-696.00" y="2390" font-family='"Liberation Sans", Arial, sans-serif' font-size='45' fill='#000' stroke='#fff' stroke-width='0.4' xml:space='preserve' textLength="13.99" lengthAdjust="spacingAndGlyphs">1</text><text transform="rotate(-90)" x="-673.00" y="2428" font-family='"Liberation Sans", Arial, sans-serif' font-size='75' fill='#000' stroke='#fff' stroke-width='1.2' xml:space='preserve' textLength="121.93" lengthAdjust="spacingAndGlyphs">) (-)</text></svg></body></html>
